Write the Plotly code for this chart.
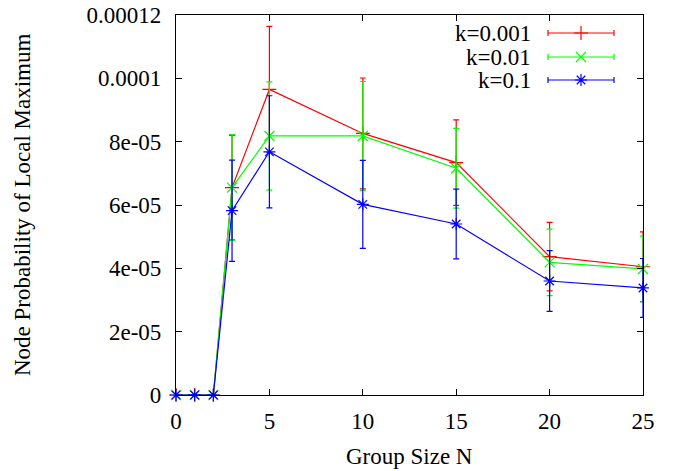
import plotly.graph_objects as go

# Data
group_size = [0, 1, 2, 3, 5, 10, 15, 20, 25]
series_names = ["k=0.001", "k=0.01", "k=0.1"]
k0001 = [0, 0, 0, 65.5e-6, 96.5e-6, 82.6e-6, 73.4e-6, 43.7e-6, 40.5e-6]
k0001_err = [0, 0, 0, 16.5e-6, 19.9e-6, 17.5e-6, 13.5e-6, 10.8e-6, 11.0e-6]
k001 = [0, 0, 0, 65.5e-6, 81.8e-6, 81.8e-6, 71.6e-6, 41.9e-6, 39.8e-6]
k001_err = [0, 0, 0, 16.7e-6, 17.1e-6, 17.2e-6, 12.6e-6, 10.5e-6, 10.4e-6]
k01 = [0, 0, 0, 58.2e-6, 76.8e-6, 60.2e-6, 54.0e-6, 36.0e-6, 33.8e-6]
k01_err = [0, 0, 0, 16.0e-6, 17.7e-6, 13.9e-6, 11.0e-6, 9.6e-6, 9.3e-6]

x_ticks = [0, 5, 10, 15, 20, 25]
y_ticks = [0, 2e-5, 4e-5, 6e-5, 8e-5, 1e-4, 1.2e-4]
y_tick_text = ["0", "2e-05", "4e-05", "6e-05", "8e-05", "0.0001", "0.00012"]

colors = ["#ff0000", "#00ff00", "#0000ff"]
symbols = ["cross-thin", "x-thin", "asterisk"]
values = [k0001, k001, k01]
errors = [k0001_err, k001_err, k01_err]

FONT = "Liberation Serif, Times New Roman, serif"
FS = 23
L, R, T, B = 176, 42, 15, 76
W, H = 685, 471
PW, PH = W - L - R, H - T - B

fig = go.Figure()
for name, vals, errs, c, s in zip(series_names, values, errors, colors, symbols):
    fig.add_trace(go.Scatter(
        x=group_size, y=vals, mode="lines+markers", name=name,
        line=dict(color=c, width=1.2),
        marker=dict(symbol=s, size=10, line=dict(color=c, width=1.2), color=c),
        error_y=dict(type="data", array=errs, visible=True, color=c, thickness=1.2, width=3),
        showlegend=False, cliponaxis=False,
    ))

# Legend samples drawn on a pixel overlay axis
row_y = [PH - (33 - T), PH - (57 - T), PH - (80 - T)]
for name, c, s, ry in zip(series_names, colors, symbols, row_y):
    fig.add_trace(go.Scatter(
        x=[581 - L], y=[ry], xaxis="x2", yaxis="y2", mode="markers",
        marker=dict(symbol=s, size=10, line=dict(color=c, width=1.2), color=c),
        error_x=dict(type="constant", value=33, visible=True, color=c, thickness=1.2, width=3),
        showlegend=False, hoverinfo="skip",
    ))
    fig.add_annotation(x=533 - L, y=ry, xref="x2", yref="y2", text=name,
                       showarrow=False, xanchor="right", yanchor="middle",
                       font=dict(family=FONT, size=FS, color="black"))

axis_common = dict(showline=True, linecolor="black", linewidth=1.2, mirror="allticks",
                   ticks="inside", ticklen=6, tickcolor="black", tickwidth=1,
                   showgrid=False, zeroline=False,
                   tickfont=dict(family=FONT, size=FS, color="black"))

fig.update_layout(
    width=W, height=H,
    margin=dict(l=L, r=R, t=T, b=B, autoexpand=False),
    paper_bgcolor="white", plot_bgcolor="white",
    xaxis=dict(range=[0, 25], tickvals=x_ticks, ticklabelstandoff=5, **axis_common),
    yaxis=dict(range=[0, 1.2e-4], tickvals=y_ticks, ticktext=y_tick_text,
               ticklabelstandoff=9, **axis_common),
    xaxis2=dict(overlaying="x", range=[0, PW], visible=False, fixedrange=True),
    yaxis2=dict(overlaying="y", range=[0, PH], visible=False, fixedrange=True),
    showlegend=False,
)

fig.add_annotation(x=0.5, y=(395 - 456) / PH, xref="paper", yref="paper",
                   text="Group Size N", showarrow=False, xanchor="center", yanchor="middle",
                   font=dict(family=FONT, size=FS, color="black"))
fig.add_annotation(x=(22 - L) / PW, y=0.5, xref="paper", yref="paper",
                   text="Node Probability of Local Maximum", textangle=-90,
                   showarrow=False, xanchor="center", yanchor="middle",
                   font=dict(family=FONT, size=FS, color="black"))

fig.write_html("out.html")
